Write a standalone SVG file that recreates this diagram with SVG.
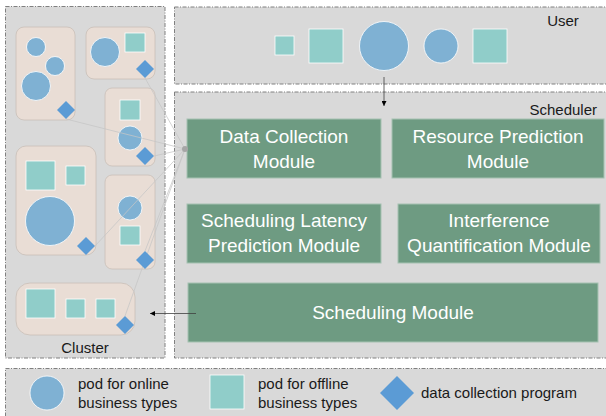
<svg xmlns="http://www.w3.org/2000/svg" width="606" height="416" viewBox="0 0 606 416">
  <style>
    .panel { fill: #d9d9d9; stroke: #808080; stroke-width: 1; stroke-dasharray: 4 1.5 1 1.5; }
    .pod { fill: #e9ddd5; stroke: #c9bfb8; stroke-width: 0.8; }
    .on { fill: #7fb1d3; stroke: #ffffff; stroke-width: 0.8; }
    .off { fill: #90cdc9; stroke: #ffffff; stroke-width: 0.8; }
    .dc { fill: #5b9bd5; }
    .mod { fill: #6e9b82; stroke: #a6c2b2; stroke-width: 1; }
    .mt { font-family: "Liberation Sans", Arial, sans-serif; font-size: 19px; fill: #ffffff; text-anchor: middle; }
    .lbl { font-family: "Liberation Sans", Arial, sans-serif; font-size: 15px; fill: #1a1a1a; }
    .link { stroke: #c6c6c6; stroke-width: 0.75; fill: none; }
    .arr { stroke: #404040; stroke-width: 0.8; fill: none; }
  </style>
  <defs>
    <marker id="ah" viewBox="0 0 8 8" refX="8" refY="4" markerWidth="5" markerHeight="5" orient="auto" markerUnits="userSpaceOnUse">
      <path d="M0,0 L8,4 L0,8 z" fill="#000000"/>
    </marker>
  </defs>

  <rect width="606" height="416" fill="#ffffff"/>

  <!-- panels -->
  <rect id="cluster-panel" class="panel" x="5.5" y="6.5" width="159.5" height="351.5"/>
  <rect id="user-panel" class="panel" x="174.5" y="7" width="440" height="77"/>
  <rect id="scheduler-panel" class="panel" x="174.5" y="92" width="440" height="266"/>
  <rect id="legend-panel" class="panel" x="5.5" y="368.5" width="620" height="60"/>

  <text class="lbl" x="85" y="353" text-anchor="middle">Cluster</text>
  <text class="lbl" x="563" y="26" text-anchor="middle">User</text>
  <text class="lbl" x="597" y="115" text-anchor="end">Scheduler</text>

  <!-- cluster nodes -->
  <g id="node-a">
    <rect class="pod" x="16" y="27" width="59" height="93" rx="8"/>
    <circle class="on" cx="36" cy="47" r="9.5"/>
    <circle class="on" cx="55" cy="66" r="9.5"/>
    <circle class="on" cx="36" cy="86" r="14.5"/>
  </g>
  <g id="node-b">
    <rect class="pod" x="86" y="27" width="69" height="52" rx="8"/>
    <circle class="on" cx="105" cy="52" r="14.5"/>
    <rect class="off" x="125" y="33" width="20" height="19"/>
  </g>
  <g id="node-c">
    <rect class="pod" x="105" y="88" width="50" height="78" rx="7"/>
    <rect class="off" x="120" y="100" width="20" height="20"/>
    <circle class="on" cx="130" cy="138" r="12"/>
  </g>
  <g id="node-d">
    <rect class="pod" x="16" y="146" width="80" height="109" rx="10"/>
    <rect class="off" x="26" y="161" width="29" height="29"/>
    <rect class="off" x="66" y="166" width="19" height="19"/>
    <circle class="on" cx="50" cy="221" r="24.5"/>
  </g>
  <g id="node-e">
    <rect class="pod" x="105" y="175" width="50" height="94" rx="7"/>
    <circle class="on" cx="130" cy="208" r="12"/>
    <rect class="off" x="120" y="226" width="20" height="19"/>
  </g>
  <g id="node-f">
    <rect class="pod" x="16" y="283" width="119" height="52" rx="14"/>
    <rect class="off" x="26" y="289" width="29" height="29"/>
    <rect class="off" x="66" y="299" width="19" height="19"/>
    <rect class="off" x="96" y="299" width="19" height="19"/>
  </g>

  <!-- user requests -->
  <g id="user-pods">
    <rect class="off" x="275" y="36" width="19" height="19"/>
    <rect class="off" x="309" y="29" width="34" height="34"/>
    <circle class="on" cx="384" cy="46" r="24.5"/>
    <circle class="on" cx="441" cy="46" r="17"/>
    <rect class="off" x="473" y="29" width="34" height="34"/>
  </g>

  <!-- scheduler modules -->
  <g id="data-collection">
    <rect class="mod" x="187" y="119" width="194" height="59"/>
    <text class="mt" x="284" y="143">Data Collection</text>
    <text class="mt" x="284" y="168">Module</text>
  </g>
  <g id="resource-prediction">
    <rect class="mod" x="392" y="119" width="212" height="59"/>
    <text class="mt" x="498" y="143">Resource Prediction</text>
    <text class="mt" x="498" y="168">Module</text>
  </g>
  <g id="latency-prediction">
    <rect class="mod" x="187" y="204" width="194" height="59"/>
    <text class="mt" x="284" y="227">Scheduling Latency</text>
    <text class="mt" x="284" y="252">Prediction Module</text>
  </g>
  <g id="interference">
    <rect class="mod" x="398" y="204" width="202" height="59"/>
    <text class="mt" x="499" y="227">Interference</text>
    <text class="mt" x="499" y="252">Quantification Module</text>
  </g>
  <g id="scheduling">
    <rect class="mod" x="188" y="283" width="410" height="59"/>
    <text class="mt" x="393" y="319">Scheduling Module</text>
  </g>

  <!-- connectors -->
  <g id="connectors">
    <line class="link" x1="66" y1="119" x2="185" y2="149"/>
    <line class="link" x1="145" y1="78" x2="185" y2="149"/>
    <line class="link" x1="154" y1="156" x2="185" y2="149"/>
    <line class="link" x1="95" y1="246" x2="185" y2="149"/>
    <line class="link" x1="145" y1="251" x2="185" y2="149"/>
    <line class="link" x1="125" y1="316" x2="185" y2="149"/>
    <circle cx="185" cy="149" r="3" fill="#a6a6a6"/>
    <line class="arr" x1="384" y1="77" x2="384" y2="106" marker-end="url(#ah)"/>
    <line class="arr" x1="196" y1="313.5" x2="150" y2="313.5" marker-end="url(#ah)"/>
  </g>

  <!-- data collection programs -->
  <g id="collectors">
    <polygon class="dc" points="66,101 75,110 66,119 57,110"/>
    <polygon class="dc" points="145,60 154,69 145,78 136,69"/>
    <polygon class="dc" points="145,147 154,156 145,165 136,156"/>
    <polygon class="dc" points="86,237 95,246 86,255 77,246"/>
    <polygon class="dc" points="145,251 154,260 145,269 136,260"/>
    <polygon class="dc" points="125,316 134,325 125,334 116,325"/>
  </g>

  <!-- legend -->
  <g id="legend">
    <circle class="on" cx="47" cy="393" r="17"/>
    <text class="lbl" x="78" y="389">pod for online</text>
    <text class="lbl" x="78" y="408">business types</text>
    <rect class="off" x="210" y="375" width="34" height="34"/>
    <text class="lbl" x="258" y="389">pod for offline</text>
    <text class="lbl" x="258" y="408">business types</text>
    <polygon class="dc" points="397,376 414,393 397,410 380,393"/>
    <text class="lbl" x="421" y="398">data collection program</text>
  </g>
</svg>
